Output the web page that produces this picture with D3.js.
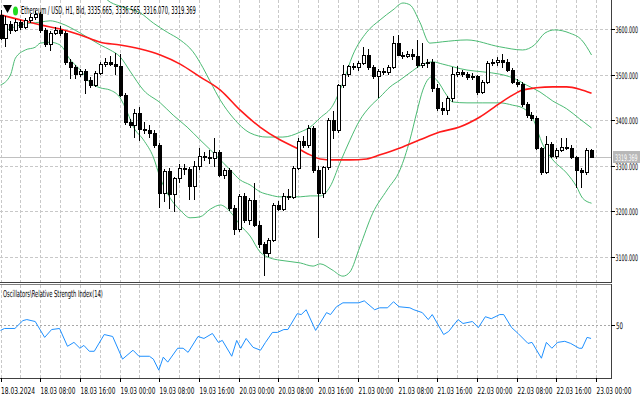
<!DOCTYPE html>
<html><head><meta charset="utf-8">
<script src="https://cdn.jsdelivr.net/npm/d3@7"></script>
<style>
body{margin:0;background:#fff}
svg{display:block}
text{font-family:"Liberation Sans Narrow","DejaVu Sans Condensed","Liberation Sans",sans-serif;fill:#000}
</style>
</head><body>
<svg id="chart" width="640" height="404"></svg>
<script>
// ---------------- DATA ----------------
const title = "Ethereum / USD, H1, Bid, 3335.665, 3336.565, 3316.070, 3319.369";
const rsiTitle = "Oscillators\\Relative Strength Index(14)";
// hours since 18.03.2024 00:00
const hours = d3.range(120);
const open = [3631,3580,3611,3598,3615,3604,3620,3626,3633,3598,
3567,3591,3598,3591,3528,3517,3501,3508,3488,3477,
3504,3523,3528,3523,3519,3455,3396,3389,3416,3381,
3379,3372,3345,3240,3289,3238,3273,3295,3293,3256,
3300,3321,3319,3317,3330,3280,3291,3207,3161,3234,
3181,3225,3170,3128,3109,3137,3214,3205,3234,3232,
3295,3354,3346,3383,3291,3240,3297,3400,3379,3477,
3501,3519,3517,3525,3543,3517,3497,3508,3506,3517,
3569,3543,3541,3545,3541,3521,3525,3528,3471,3427,
3422,3449,3501,3506,3501,3495,3497,3462,3484,3525,
3528,3532,3528,3510,3484,3479,3435,3411,3405,3339,
3286,3348,3321,3335,3341,3339,3319,3291,3286,3335.665];
const high = [3642,3628,3618,3622,3620,3625,3632,3640,3638,3602,
3596,3604,3606,3596,3534,3522,3512,3512,3494,3508,
3528,3536,3540,3547,3545,3460,3402,3425,3428,3395,
3390,3378,3350,3292,3295,3276,3305,3304,3298,3310,
3340,3330,3335,3360,3335,3296,3296,3215,3238,3240,
3230,3262,3178,3132,3142,3218,3222,3240,3250,3300,
3360,3365,3390,3388,3300,3300,3405,3420,3480,3520,
3522,3525,3530,3560,3556,3522,3512,3515,3522,3585,
3586,3550,3552,3556,3575,3570,3534,3535,3480,3440,
3452,3517,3518,3510,3506,3504,3500,3488,3530,3535,
3538,3545,3534,3515,3490,3484,3440,3418,3410,3342,
3365,3352,3340,3360,3360,3345,3322,3296,3340,3336.565];
const low = [3575,3560,3590,3594,3598,3600,3614,3620,3592,3560,
3552,3586,3585,3522,3490,3490,3494,3458,3470,3472,
3500,3516,3518,3500,3450,3390,3382,3361,3355,3370,
3360,3340,3207,3220,3206,3198,3262,3280,3224,3226,
3290,3310,3305,3298,3276,3270,3200,3148,3155,3175,
3170,3165,3120,3058,3100,3132,3200,3200,3226,3228,
3290,3340,3340,3285,3142,3230,3290,3358,3372,3470,
3495,3510,3508,3520,3510,3490,3449,3500,3500,3512,
3540,3535,3536,3532,3515,3515,3515,3462,3420,3411,
3412,3440,3495,3494,3488,3488,3455,3458,3480,3518,
3518,3515,3505,3480,3472,3430,3405,3398,3335,3280,
3282,3318,3315,3330,3334,3314,3251,3252,3280,3316.07];
const close = [3580,3611,3598,3615,3604,3620,3626,3633,3598,3567,
3591,3598,3591,3528,3517,3501,3508,3488,3477,3504,
3523,3528,3523,3519,3455,3396,3389,3416,3381,3379,
3372,3345,3240,3289,3238,3273,3295,3293,3256,3300,
3321,3319,3317,3330,3280,3291,3207,3161,3234,3181,
3225,3170,3128,3109,3137,3214,3205,3234,3232,3295,
3354,3346,3383,3291,3240,3297,3400,3379,3477,3501,
3519,3517,3525,3543,3517,3497,3508,3506,3517,3569,
3543,3541,3545,3541,3521,3525,3528,3471,3427,3422,
3449,3501,3506,3501,3495,3497,3462,3484,3525,3528,
3532,3528,3510,3484,3479,3435,3411,3405,3339,3286,
3348,3321,3335,3341,3339,3319,3291,3286,3335.665,3319.369];

// Bollinger bands: hour index / price
const bbUpH = [0,10,18,22.1,24.7,28.2,30.8,33.6,36.2,38.8,40.8,42.3,44.3,46.9,50.3,53.7,56.9,60.4,62.4,64.4,67,69,71,73.8,76.5,79.1,81.1,82.5,84.5,86.5,89.1,94,100.6,105.2,107.6,109.7,111.7,114.7,117.1,119.1];
const bbUpV = [3710,3718,3700,3659,3648,3635,3613,3593,3576,3550,3515,3484,3444,3405,3372,3363,3363,3374,3385,3405,3433,3482,3543,3593,3620,3642,3657,3653,3615,3569,3572,3576,3561,3554,3565,3591,3598,3591,3576,3543];
const bbMidH = [0,4,8,10,12,16.1,20.1,22.1,24.1,26.2,28.8,32.2,34.8,37.6,40.2,42.3,44.3,46.3,48.3,50.3,52.3,54.3,56.3,60.4,62.4,64.4,66.4,68.4,70.4,72.4,74.4,76.5,78.5,80.5,82.5,84.5,87.1,89.1,94,97.2,100.6,103.2,106,108.7,111.3,114.1,116.7,119.1];
const bbMidV = [3591,3609,3615,3618,3613,3591,3565,3554,3539,3506,3466,3438,3411,3385,3357,3335,3313,3291,3269,3258,3243,3236,3232,3232,3234,3234,3254,3306,3356,3400,3429,3451,3473,3488,3504,3519,3528,3523,3510,3506,3501,3493,3477,3462,3442,3425,3403,3383];
const bbLowH = [0,2,3,5,7,8,10,12,14.1,16.1,18.1,20.1,22.1,24.1,25.6,26.8,28.8,30.8,32.2,34.2,36.2,38.2,40.2,42.3,44.3,46.3,48.3,50.3,52.3,54.3,56.3,60.4,63,64.4,66.8,69,70.4,72.4,75,77.9,80.5,82.5,83.9,85.1,86.9,87.9,89.9,91.1,94,97.2,100.6,103.2,105.2,107.2,109.3,111.3,114.1,116.1,117.3,119.1];
const bbLowV = [3477,3499,3536,3554,3560,3569,3571,3565,3532,3510,3482,3471,3466,3449,3416,3385,3357,3319,3273,3229,3203,3186,3188,3205,3214,3199,3170,3146,3111,3098,3093,3087,3080,3085,3072,3058,3067,3122,3196,3247,3291,3357,3418,3466,3495,3488,3455,3440,3438,3438,3438,3433,3427,3405,3346,3313,3284,3254,3229,3218];
// Red moving average
const maH = [0,4,8,12,16.1,20.1,24.1,28.2,32.2,36.2,40.2,44.3,48.3,52.3,56.3,60.4,62.4,64.4,67,70.4,73.8,76.5,80.5,84.5,88.5,92.5,96.6,100.6,103.2,105.2,108,111.3,114.1,116.7,119.1];
const maV = [3631,3620,3609,3600,3587,3571,3565,3556,3543,3523,3495,3466,3422,3385,3357,3335,3324,3315,3313,3313,3315,3324,3339,3357,3374,3385,3407,3437,3455,3466,3471,3473,3473,3468,3459];
// RSI(14)
const rsiH = [0,0.8,2.9,4.5,5.3,7,8.9,10.3,11.9,13.5,14.8,16,16.8,17.9,18.9,20.9,22.6,24.6,26.7,27.9,30,30.8,31.9,32.8,33.7,35.7,36.8,37.8,39.8,41,42.7,43.9,44.7,46.6,47.6,48.4,49.5,50.9,52.4,53.4,54.8,55.8,57.1,57.9,59.8,60.6,61.6,63.5,65.7,66.5,67.7,69,72.2,73.3,75.4,76.4,78,79.2,80.3,82.5,83.3,85,86.2,87,89.3,90.3,92.2,93.2,95.1,96.3,97.7,98.9,100.6,101.4,103,104.3,106.3,107.1,109,110,111.1,112.3,113.7,114.9,116.6,117.2,118.2,119];
const rsiV = [46.7,47.8,47.8,52.2,52.8,51.7,42.8,47.2,47.8,37.8,40,36.7,38.3,35,35,44.4,43.3,30.6,35.6,32.2,32.2,30.6,24.4,31.7,28.9,36.7,36.7,34.4,43.3,42.2,45,40,41.1,32.2,41.1,36.7,42.2,37.2,35.6,40,45.6,45.6,47.2,47.2,56.1,55.6,58.3,46.7,56.7,55.6,60,62.2,62.2,63.3,58.3,59.4,59.4,62.8,60,59.4,58.3,56.7,52.8,55.6,44.4,46.1,52.8,50.6,51.7,48.3,54.4,53.3,55.6,55.6,48.3,45,39.4,40,31.1,40,36.7,40,40.6,39.4,36.7,36.7,42.8,42.2];

const priceTicks = [3600,3500,3400,3300,3200,3100];
const timeTickHours = [0,8,16,24,32,40,48,56,64,72,80,88,96,104,112,120];
const timeTickLabels = ["18.03.2024","18.03 08:00","18.03 16:00","19.03 00:00","19.03 08:00","19.03 16:00","20.03 00:00","20.03 08:00","20.03 16:00","21.03 00:00","21.03 08:00","21.03 16:00","22.03 00:00","22.03 08:00","22.03 16:00","23.03 00:00"];
const gridHours = d3.range(0, 121, 4);
const rsiLevel = 50;
const lastPrice = 3319.369;

// ---------------- LAYOUT ----------------
const svg = d3.select("#chart");
const W = 640, H = 404;
const plotR = 611;
const main = {top:0, bottom:282};
const sub = {top:285, bottom:378};

const x = d3.scaleLinear().domain([0,120]).range([0.5, 596]);
const y = d3.scaleLinear().domain([3100,3600]).range([257, 29]);
const yr = d3.scaleLinear().domain([20, 72.2]).range([sub.bottom, sub.top]);

svg.append("rect").attr("width",W).attr("height",H).attr("fill","#fff");

function fitText(parent, tx, ty, str, size, width, color) {
  const t = parent.append("text").attr("x",0).attr("y",0).attr("font-size",size).text(str);
  if (color) t.style("fill", color);
  const w = t.node().getComputedTextLength();
  const s = w > 0 ? width / w : 1;
  t.attr("transform", `translate(${tx},${ty}) scale(${s},1)`);
  return t;
}

const defs = svg.append("defs");
defs.append("clipPath").attr("id","cm").append("rect").attr("x",0).attr("y",main.top).attr("width",plotR).attr("height",main.bottom-main.top);
defs.append("clipPath").attr("id","cs").append("rect").attr("x",0).attr("y",sub.top).attr("width",plotR).attr("height",sub.bottom-sub.top);

const gm = svg.append("g").attr("clip-path","url(#cm)");
const gs = svg.append("g").attr("clip-path","url(#cs)");

const gridCol = "#c8c8c8";
gridHours.forEach(h => {
  const xx = Math.round(x(h)) + 0.5;
  gm.append("line").attr("x1",xx).attr("x2",xx).attr("y1",main.top).attr("y2",main.bottom)
    .attr("stroke",gridCol).attr("stroke-dasharray","3,2");
  gs.append("line").attr("x1",xx).attr("x2",xx).attr("y1",sub.top).attr("y2",sub.bottom)
    .attr("stroke",gridCol).attr("stroke-dasharray","3,2");
});
priceTicks.forEach(p => {
  const yy = Math.round(y(p)) + 0.5;
  gm.append("line").attr("x1",0).attr("x2",plotR).attr("y1",yy).attr("y2",yy)
    .attr("stroke",gridCol).attr("stroke-dasharray","3,2");
});
{
  const yy = Math.round(yr(rsiLevel)) + 0.5;
  gs.append("line").attr("x1",0).attr("x2",plotR).attr("y1",yy).attr("y2",yy)
    .attr("stroke","#a8a8a8").attr("stroke-dasharray","2,2");
}
{
  const yy = Math.round(y(lastPrice)) + 0.5;
  gm.append("line").attr("x1",0).attr("x2",plotR).attr("y1",yy).attr("y2",yy)
    .attr("stroke","#c0c0c0").attr("stroke-width",1);
}

const lineOf = (hs, vs, sc) => d3.line().x((d,i)=>x(hs[i])).y((d,i)=>sc(vs[i])).curve(d3.curveMonotoneX)(vs);
const bbCol = "#4cbb74";
gm.append("path").attr("d", lineOf(bbUpH, bbUpV, y)).attr("fill","none").attr("stroke",bbCol).attr("stroke-width",1);
gm.append("path").attr("d", lineOf(bbMidH, bbMidV, y)).attr("fill","none").attr("stroke",bbCol).attr("stroke-width",1);
gm.append("path").attr("d", lineOf(bbLowH, bbLowV, y)).attr("fill","none").attr("stroke",bbCol).attr("stroke-width",1);
gm.append("path").attr("d", lineOf(maH, maV, y)).attr("fill","none").attr("stroke","#ff1a1a").attr("stroke-width",1.6);

const cg = gm.append("g").attr("shape-rendering","crispEdges");
hours.forEach((h,i) => {
  const xc = Math.round(x(h));
  const yh = Math.round(y(high[i])), yl = Math.round(y(low[i]));
  const yo = Math.round(y(open[i])), yc = Math.round(y(close[i]));
  cg.append("rect").attr("x",xc).attr("y",yh).attr("width",1).attr("height",Math.max(1,yl-yh)).attr("fill","#000");
  const top = Math.min(yo,yc), bot = Math.max(yo,yc);
  const hgt = Math.max(1, bot-top);
  cg.append("rect").attr("x",xc-1).attr("y",top).attr("width",4).attr("height",hgt+1).attr("fill","#000");
  if (close[i] >= open[i] && hgt > 1) {
    cg.append("rect").attr("x",xc).attr("y",top+1).attr("width",2).attr("height",hgt-1).attr("fill","#fff");
  }
});

gs.append("path").attr("d", d3.line().x((d,i)=>x(rsiH[i])).y(d=>yr(d))(rsiV))
  .attr("fill","none").attr("stroke","#1e90ff").attr("stroke-width",1);

// borders
const bcol = "#404040";
svg.append("line").attr("x1",plotR+0.5).attr("x2",plotR+0.5).attr("y1",0).attr("y2",main.bottom+1).attr("stroke",bcol);
svg.append("line").attr("x1",0).attr("x2",plotR+1).attr("y1",main.bottom+0.5).attr("y2",main.bottom+0.5).attr("stroke",bcol);
svg.append("line").attr("x1",0).attr("x2",plotR+1).attr("y1",sub.top-0.5).attr("y2",sub.top-0.5).attr("stroke","#808080");
svg.append("line").attr("x1",plotR+0.5).attr("x2",plotR+0.5).attr("y1",sub.top-1).attr("y2",sub.bottom+1).attr("stroke",bcol);
svg.append("line").attr("x1",0).attr("x2",plotR+1).attr("y1",sub.bottom+0.5).attr("y2",sub.bottom+0.5).attr("stroke",bcol);

priceTicks.forEach(p => {
  const yy = Math.round(y(p)) + 0.5;
  svg.append("line").attr("x1",plotR).attr("x2",plotR+4).attr("y1",yy).attr("y2",yy).attr("stroke","#000");
  fitText(svg, 615.5, yy+3.5, d3.format(".3f")(p), 9, 22.5);
});
{
  const yy = Math.round(y(lastPrice));
  svg.append("rect").attr("x",613).attr("y",yy-6).attr("width",27).attr("height",12).attr("fill","#b8b8b8");
  fitText(svg, 615, yy+3.5, d3.format(".3f")(lastPrice), 9, 22.5, "#ffffff");
}
{
  const yy = Math.round(yr(rsiLevel)) + 0.5;
  svg.append("line").attr("x1",plotR).attr("x2",plotR+4).attr("y1",yy).attr("y2",yy).attr("stroke","#000");
  fitText(svg, 616, yy+3.5, String(rsiLevel), 9, 7);
}
timeTickHours.forEach((h,i) => {
  const xx = Math.round(x(h)) + 0.5;
  svg.append("line").attr("x1",xx).attr("x2",xx).attr("y1",sub.bottom).attr("y2",sub.bottom+4).attr("stroke","#000");
  fitText(svg, xx - (i===0 ? 0.5 : 0), 394, timeTickLabels[i], 9.5, i===0 ? 34 : 35);
});

svg.append("path").attr("d","M3,5 L12,5 L7.5,13 Z").attr("fill","#000");
svg.append("ellipse").attr("cx",15.5).attr("cy",11).attr("rx",2.5).attr("ry",4.5).attr("fill","#22dd22");
fitText(svg, 21, 14, title, 11, 175);
fitText(svg, 3, 297, rsiTitle, 9.5, 100);
</script>
</body></html>
